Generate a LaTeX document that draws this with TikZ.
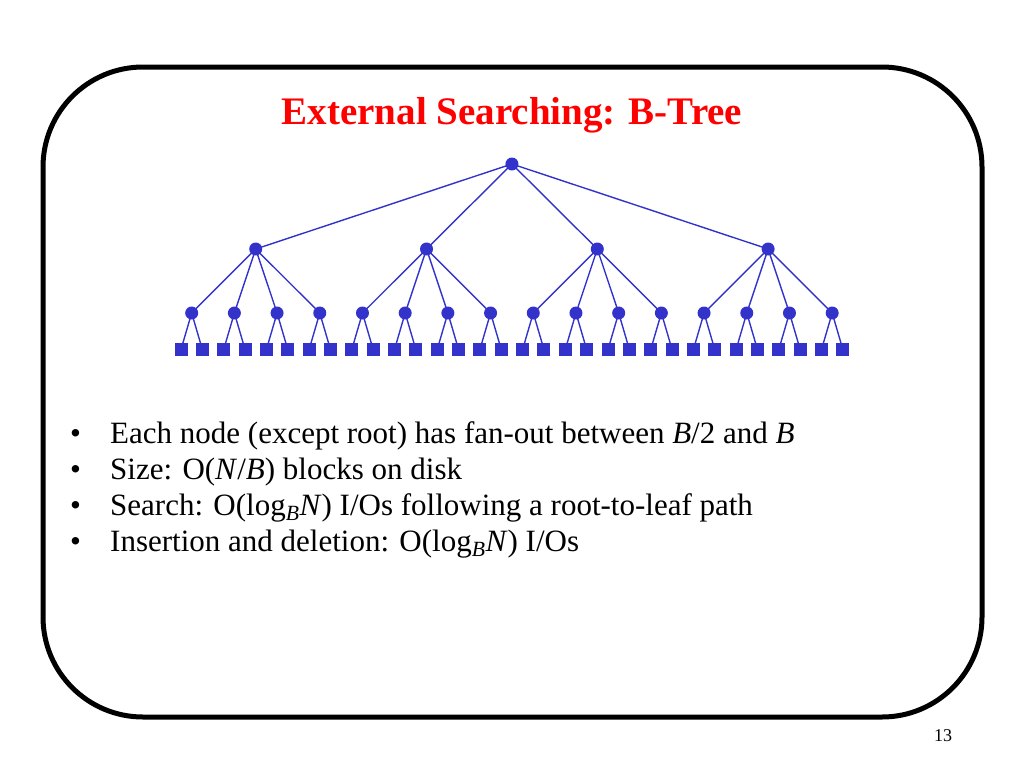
\documentclass[tikz,border=0pt]{standalone}
\usepackage{fontspec}
\setmainfont{Liberation Serif}
\usetikzlibrary{calc}
\definecolor{treeblue}{RGB}{51,51,204}
\definecolor{titlered}{RGB}{255,0,0}
\newcommand\myBulFont{\fontsize{31}{36}\selectfont}
\newcommand\myTitleFont{\fontsize{39}{42}\selectfont\bfseries}
\tikzset{
  inner/.style={circle,fill=treeblue,inner sep=0pt,minimum size=13pt},
  leaf/.style={rectangle,fill=treeblue,inner sep=0pt,minimum size=13pt},
  edge/.style={draw=treeblue,line width=1.4pt},
  bul/.style={anchor=base west,inner sep=0pt},
}
\begin{document}
\begin{tikzpicture}[x=1pt,y=-1pt]
\useasboundingbox (0,0) rectangle (1024,768);
\draw[line width=5pt,rounded corners=100pt] (43,67) rectangle (982,717);
\node[anchor=base,inner sep=0pt,text=titlered] (title) at (512,124) {\myTitleFont External Searching: B-Tree};
% leaves
\foreach \i in {1,...,32} {
  \coordinate (lc\i) at ({181+(\i-1)*21.35},349.5);
}
% level 2
\foreach \j in {1,...,16} {
  \pgfmathtruncatemacro{\p}{2*\j-1}\pgfmathtruncatemacro{\q}{2*\j}
  \coordinate (bc\j) at ($(lc\p)!0.5!(lc\q)$);
  \coordinate (b\j) at (bc\j |- 0,313);
}
% level 1
\foreach \k in {1,...,4} {
  \pgfmathtruncatemacro{\p}{4*\k-3}\pgfmathtruncatemacro{\q}{4*\k}
  \coordinate (ac\k) at ($(b\p)!0.5!(b\q)$);
  \coordinate (a\k) at (ac\k |- 0,249);
}
\coordinate (rc) at ($(a1)!0.5!(a4)$);
\coordinate (r) at (rc |- 0,164);
% edges
\foreach \k in {1,...,4} { \draw[edge] (r) -- (a\k); }
\foreach \j in {1,...,16} {
  \pgfmathtruncatemacro{\k}{int((\j-1)/4)+1}
  \draw[edge] (a\k) -- (b\j);
}
\foreach \i in {1,...,32} {
  \pgfmathtruncatemacro{\j}{int((\i-1)/2)+1}
  \draw[edge] (b\j) -- (lc\i);
}
% nodes
\node[inner] (R) at (r) {};
\foreach \k in {1,...,4} { \node[inner] (A\k) at (a\k) {}; }
\foreach \j in {1,...,16} { \node[inner] (B\j) at (b\j) {}; }
\foreach \i in {1,...,32} { \node[leaf] (L\i) at (lc\i) {}; }
% bullets
\foreach \y/\n in {443/1,479/2,515/3,551/4} {
  \node[bul] (d\n) at (70,\y) {\myBulFont\textbullet};
}
\node[bul] (t1) at (110,443) {\myBulFont Each node (except root) has fan-out between \textit{B}/2 and \textit{B}};
\node[bul] (t2) at (110,479) {\myBulFont Size: O(\textit{N}/\textit{B}) blocks on disk};
\node[bul] (t3) at (110,515) {\myBulFont Search: O(log\textsubscript{\textit{B}}\textit{N}) I/Os following a root-to-leaf path};
\node[bul] (t4) at (110,551) {\myBulFont Insertion and deletion: O(log\textsubscript{\textit{B}}\textit{N}) I/Os};
\node[anchor=base,inner sep=0pt,font=\fontsize{18}{20}\selectfont] (pg) at (943,741) {13};
\end{tikzpicture}
\end{document}
